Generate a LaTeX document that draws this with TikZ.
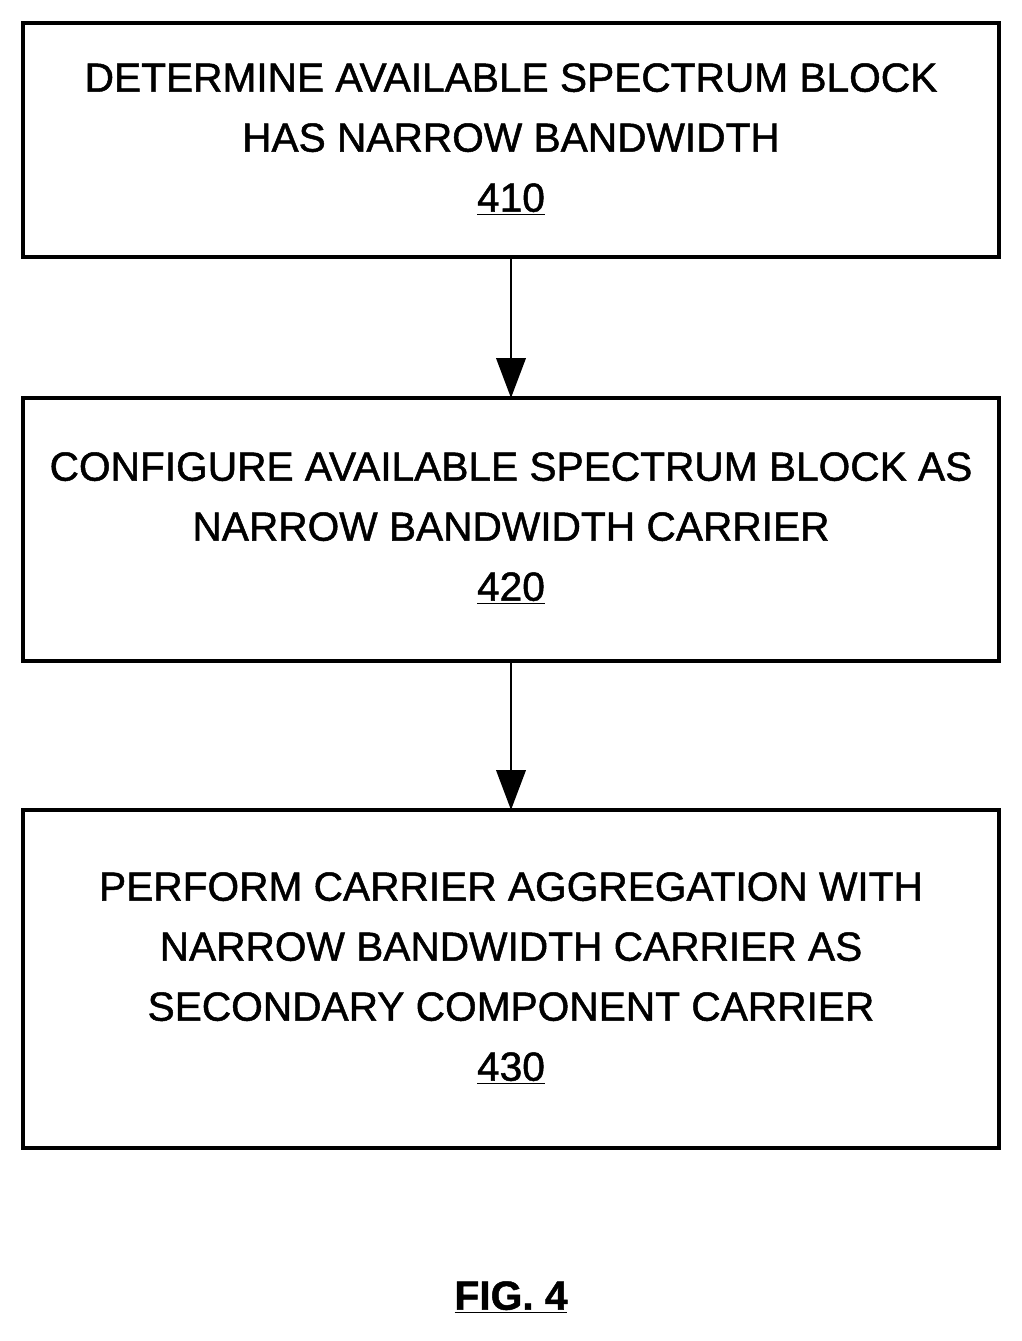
\documentclass[tikz,border=0pt]{standalone}
\usepackage{fontspec}
\setmainfont{Liberation Sans}[FakeBold=1.2]
\usetikzlibrary{arrows.meta}
\begin{document}
\begin{tikzpicture}[x=0.75pt,y=-0.75pt,
  box/.style={draw,line width=2.4pt},
  txt/.style={align=center,font=\fontsize{30.5pt}{45pt}\selectfont,inner sep=0},
  arr/.style={line width=2.2pt,-{Triangle[length=30pt,width=22pt]}}]
\useasboundingbox (0,0) rectangle (1021,1341);
\draw[box] (23,23) rectangle (999,257);
\draw[box] (23,398) rectangle (999,661);
\draw[box] (23,810) rectangle (999,1148);
\coordinate (b1) at (511,257); \coordinate (t2) at (511,398);
\coordinate (b2) at (511,661); \coordinate (t3) at (511,810);
\node[txt] (n1) at (511,139) {DETERMINE AVAILABLE SPECTRUM BLOCK\\HAS NARROW BANDWIDTH\\\underline{410}};
\node[txt] (n2) at (511,528) {CONFIGURE AVAILABLE SPECTRUM BLOCK AS\\NARROW BANDWIDTH CARRIER\\\underline{420}};
\node[txt] (n3) at (511,978) {PERFORM CARRIER AGGREGATION WITH\\NARROW BANDWIDTH CARRIER AS\\SECONDARY COMPONENT CARRIER\\\underline{430}};
\draw[arr] (b1) -- (t2);
\draw[arr] (b2) -- (t3);
\node[txt,font=\fontsize{30.5pt}{45pt}\selectfont\bfseries] (fig) at (511,1297) {\underline{FIG. 4}};
\end{tikzpicture}
\end{document}
